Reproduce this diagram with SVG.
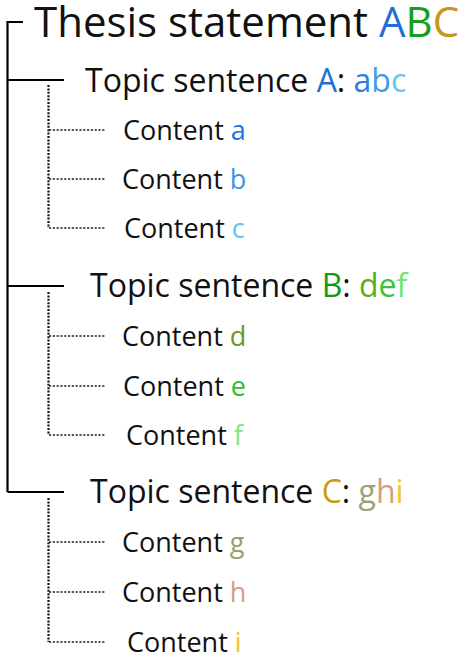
<svg xmlns="http://www.w3.org/2000/svg" width="466" height="663" viewBox="0 0 466 663">
<style>
text{font-family:"Open Sans","Noto Sans","DejaVu Sans",sans-serif;fill:#111}
.t0{font-size:42px}
.t1{font-size:32px}
.t2{font-size:27px}
.solid{stroke:#000;stroke-width:2.2;fill:none}
.dotv{stroke:#111;stroke-width:2.2;stroke-dasharray:2 1.4;fill:none}
.doth{stroke:#222;stroke-width:1.6;stroke-dasharray:2.2 1.6;fill:none}
</style>
<rect width="466" height="663" fill="#fff"/>
<g id="connectors">
<path class="solid" d="M7.5 492V22H23"/>
<path class="solid" d="M7.5 80H64M7.5 286H64M7.5 492H64"/>
<path class="dotv" d="M48.5 85V228M48.5 292V435M48.5 498V642"/>
<path class="doth" d="M49 130H106M49 179H106M49 228H106M49 336H106M49 386H106M49 435H106M49 542H106M49 592H106M49 642H106"/>
</g>
<g id="thesis"><text class="t0" x="34" y="37">Thesis statement <tspan fill="#1f6fd6">A</tspan><tspan fill="#13a01e">B</tspan><tspan fill="#c8961a">C</tspan></text></g>
<g id="topicA"><text class="t1" x="85" y="92">Topic sentence <tspan fill="#1f6fd6">A</tspan>: <tspan fill="#2a7fe0">a</tspan><tspan fill="#3f9ae8">b</tspan><tspan fill="#6cc4f0">c</tspan></text></g>
<g id="contentA"><text class="t2" x="123" y="139.5">Content <tspan fill="#1f70d8">a</tspan></text></g>
<g id="contentB"><text class="t2" x="122" y="189">Content <tspan fill="#3d95e5">b</tspan></text></g>
<g id="contentC"><text class="t2" x="124" y="238">Content <tspan fill="#66c3ef">c</tspan></text></g>
<g id="topicB"><text class="t1" x="90" y="297">Topic sentence <tspan fill="#139a13">B</tspan>: <tspan fill="#5aae1c">d</tspan><tspan fill="#3cc33c">e</tspan><tspan fill="#6de86d">f</tspan></text></g>
<g id="contentD"><text class="t2" x="122" y="345.5">Content <tspan fill="#6a9a1a">d</tspan></text></g>
<g id="contentE"><text class="t2" x="123" y="395.5">Content <tspan fill="#2fbf2f">e</tspan></text></g>
<g id="contentF"><text class="t2" x="126" y="444.5">Content <tspan fill="#7be87b">f</tspan></text></g>
<g id="topicC"><text class="t1" x="90" y="503">Topic sentence <tspan fill="#cc9a10">C</tspan>: <tspan fill="#9aa37a">g</tspan><tspan fill="#d0a080">h</tspan><tspan fill="#f0c820">i</tspan></text></g>
<g id="contentG"><text class="t2" x="122" y="551.5">Content <tspan fill="#9aa070">g</tspan></text></g>
<g id="contentH"><text class="t2" x="122" y="601.5">Content <tspan fill="#d0a080">h</tspan></text></g>
<g id="contentI"><text class="t2" x="127" y="651.5">Content <tspan fill="#f5c518">i</tspan></text></g>
</svg>
